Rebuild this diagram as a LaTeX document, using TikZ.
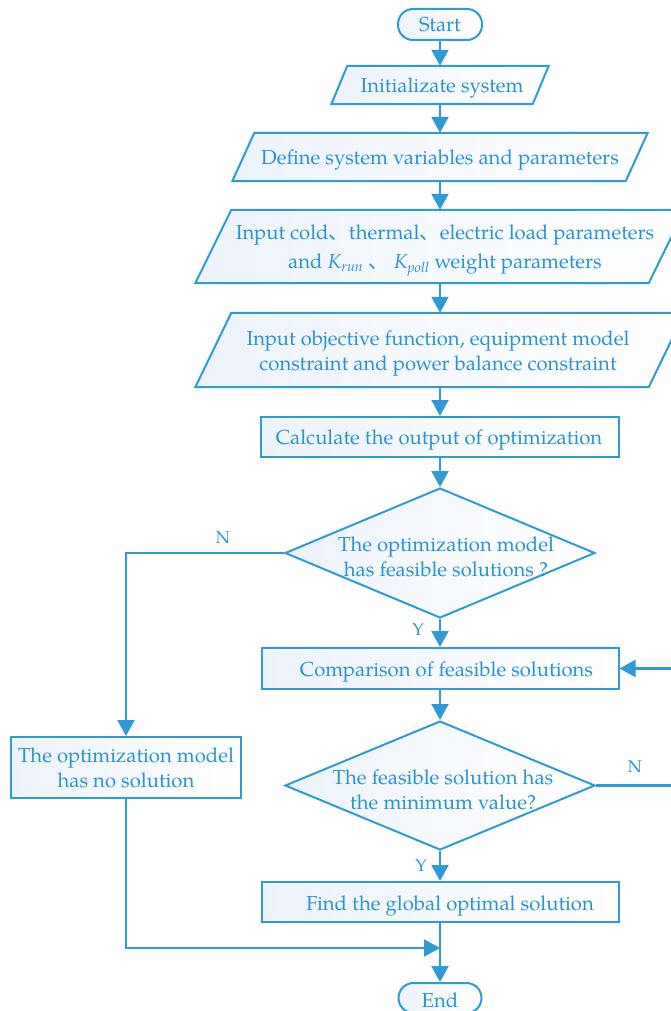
\documentclass[tikz,border=0pt]{standalone}
\usepackage{fontspec}
\setmainfont{texgyrepagella}[Extension=.otf, UprightFont=*-regular, ItalicFont=*-italic, BoldFont=*-bold, BoldItalicFont=*-bolditalic]
\newfontfamily\cjk{Noto Sans CJK SC}
\usetikzlibrary{arrows.meta,shapes.geometric,calc}

\definecolor{lineblue}{HTML}{2E9BD6}
\definecolor{textblue}{HTML}{2A93D0}
\definecolor{shadeblue}{HTML}{EDF3FB}

\tikzset{
  box/.style={draw=lineblue, line width=2pt, left color=shadeblue, right color=white,
              inner sep=0pt, text=textblue, font=\fontsize{20.3}{25}\selectfont, align=center},
  procbox/.style={box, rectangle},
  term/.style={box, rectangle, rounded corners=15pt},
  decision/.style={box, diamond},
  carrier/.style={rectangle, inner sep=0pt},
  txt/.style={text=textblue, font=\fontsize{20.3}{25}\selectfont, align=center, inner sep=0pt},
  yn/.style={text=textblue, font=\fontsize{17}{20}\selectfont, inner sep=0pt},
  arr/.style={draw=lineblue, line width=2.1pt, -{Triangle[width=17pt,length=16pt]}},
}

% input/output parallelogram around a carrier node: #1 node, #2 half slant
\newcommand\drawpara[2]{%
  \path[box] ($(#1.north west)+(#2,0)$) -- ($(#1.north east)+(#2,0)$)
    -- ($(#1.south east)-(#2,0)$) -- ($(#1.south west)-(#2,0)$) -- cycle;}

\begin{document}
\begin{tikzpicture}[x=1pt,y=-1pt]
\useasboundingbox (0,0) rectangle (671,1011);
\clip (0,0) rectangle (671,1011);

% main column
\node[term, minimum width=84pt, minimum height=31pt] (start) at (440,24.5) {};
\node[txt] (startt) at (440,25) {Start};

\node[carrier, minimum width=201pt, minimum height=38pt] (init) at (440,85) {};
\drawpara{init}{8}
\node[txt] (initt) at (442,88) {Initializate system};

\node[carrier, minimum width=393pt, minimum height=48pt] (def) at (440,157) {};
\drawpara{def}{11}
\node[txt] (deft) at (440,159.5) {Define system variables and parameters};

\node[carrier, minimum width=453pt, minimum height=73pt] (load) at (440,246.5) {};
\drawpara{load}{18}
\node[txt, font=\fontsize{20.3}{29}\selectfont] (loadt) at (445,250.5)
  {Input cold{\cjk 、}thermal{\cjk 、}electric load parameters\\
   and \textit{K}\textsubscript{\textit{run}} {\cjk 、} \textit{K}\textsubscript{\textit{poll}} weight parameters};

\node[carrier, minimum width=453pt, minimum height=74pt] (obj) at (440,350) {};
\drawpara{obj}{18}
\node[txt] (objt) at (438,353)
  {Input objective function, equipment model\\constraint and power balance constraint};

\node[procbox, minimum width=358pt, minimum height=40pt] (calc) at (440,437) {};
\node[txt] (calct) at (439,440) {Calculate the output of optimization};

\node[decision, minimum width=310pt, minimum height=130pt] (d1) at (440,553) {};
\node[txt] (d1t) at (446,557) {The optimization model\\has feasible solutions ?};

\node[procbox, minimum width=357pt, minimum height=41pt] (comp) at (440,668.5) {};
\node[txt] (compt) at (446.5,672) {Comparison of feasible solutions};

\node[decision, minimum width=310pt, minimum height=129pt] (d2) at (440,785.5) {};
\node[txt] (d2t) at (443,790) {The feasible solution has\\the minimum value?};

\node[procbox, minimum width=357pt, minimum height=40pt] (find) at (440,902) {};
\node[txt] (findt) at (450,905.5) {Find the global optimal solution};

\node[term, minimum width=83pt, minimum height=30pt] (end) at (440,998) {};
\node[txt] (endt) at (440,1000) {End};

% side branch
\node[procbox, minimum width=230pt, minimum height=61pt] (nosol) at (126,767.5)
  {The optimization model\\has no solution};

% connectors
\draw[arr] (start) -- (init);
\draw[arr] (init) -- (def);
\draw[arr] (def) -- (load);
\draw[arr] (load) -- (obj);
\draw[arr] (obj) -- (calc);
\draw[arr] (calc) -- (d1);
\draw[arr] (d1) -- (comp);
\draw[arr] (comp) -- (d2);
\draw[arr] (d2) -- (find);
\draw[arr] (find) -- (end);

\draw[arr] (d1.west) -| (nosol.north);
\coordinate (merge) at (440,948);
\draw[arr] (nosol.south) |- (merge);
\coordinate (loopx) at (690,0);
\draw[arr] (d2.east) -- (d2.east -| loopx) |- (comp.east);

% branch labels
\node[yn] (n1) at (223,538) {N};
\node[yn] (y1) at (418,630) {Y};
\node[yn] (n2) at (635,767) {N};
\node[yn] (y2) at (421,866) {Y};
\end{tikzpicture}
\end{document}
